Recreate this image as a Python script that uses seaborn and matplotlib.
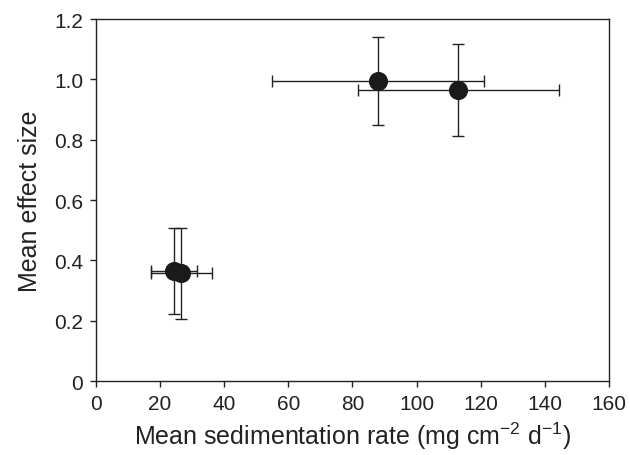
import matplotlib
matplotlib.use("Agg")
import matplotlib.pyplot as plt
import seaborn as sns
import pandas as pd

# values
sed_rate = [88.0, 113.0, 24.3, 26.7]
sed_err = [33.0, 31.4, 7.1, 9.4]
effect_size = [0.995, 0.965, 0.366, 0.358]
effect_err = [0.147, 0.153, 0.143, 0.151]

x_ticks = [0, 20, 40, 60, 80, 100, 120, 140, 160]
y_ticks = [0, 0.2, 0.4, 0.6, 0.8, 1.0, 1.2]
y_tick_labels = ["0", "0.2", "0.4", "0.6", "0.8", "1.0", "1.2"]

df = pd.DataFrame({"rate": sed_rate, "effect": effect_size})

sns.set_style("ticks")
plt.rcParams['font.family'] = ['Liberation Sans', 'DejaVu Sans']
plt.rcParams['mathtext.fontset'] = 'custom'
plt.rcParams['mathtext.rm'] = 'Liberation Sans'

fig = plt.figure(figsize=(6.3, 4.56), dpi=100)
ax = fig.add_axes([0.152, 0.162, 0.815, 0.794])

ax.errorbar(df["rate"], df["effect"], xerr=sed_err, yerr=effect_err,
            fmt="none", ecolor="#222222", elinewidth=1.0, capsize=4, capthick=1.0, zorder=2)
sns.scatterplot(data=df, x="rate", y="effect", ax=ax, color="#1a1a1a",
                s=190, edgecolor="#1a1a1a", linewidth=0, zorder=3)

ax.set_xlim(0, 160)
ax.set_ylim(0, 1.2)
ax.set_xticks(x_ticks)
ax.set_yticks(y_ticks)
ax.set_yticklabels(y_tick_labels)
ax.tick_params(axis="both", labelsize=15, direction="out", length=4, width=1,
               color="#222222", labelcolor="#222222", pad=5)

for s in ax.spines.values():
    s.set_color("#222222")
    s.set_linewidth(1.0)

ax.set_xlabel("Mean sedimentation rate (mg cm$^{\\mathrm{\u22122}}$ d$^{\\mathrm{\u22121}}$)",
              fontsize=18, labelpad=5, color="#222222")
ax.set_ylabel("Mean effect size", fontsize=18, labelpad=9, color="#222222")

fig.savefig("out.png", dpi=100)
